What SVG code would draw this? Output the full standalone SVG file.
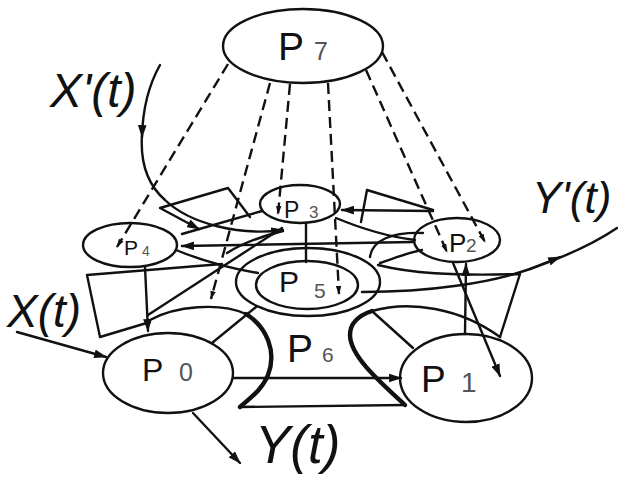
<svg xmlns="http://www.w3.org/2000/svg" width="618" height="477" viewBox="0 0 618 477">
<style>
.nd{fill:none;stroke:#111;stroke-width:2.4}
.ln{fill:none;stroke:#111;stroke-width:2.4;stroke-linecap:round;stroke-linejoin:round}
.bold{fill:none;stroke:#111;stroke-width:4.4;stroke-linecap:round}
.dash{fill:none;stroke:#111;stroke-width:2.4;stroke-dasharray:11 6}
.p{font-family:"Liberation Sans",Arial,sans-serif;fill:#111}
.s{font-family:"Liberation Sans",Arial,sans-serif;fill:#555}
.lab{font-family:"Liberation Sans",Arial,sans-serif;font-style:italic;fill:#111}
</style>
<defs>
<marker id="ar" viewBox="0 0 12 8" refX="11" refY="4" markerWidth="13" markerHeight="9" markerUnits="userSpaceOnUse" orient="auto">
<path d="M0,0 L12,4 L0,8 z" fill="#111"/>
</marker>
<marker id="ad" viewBox="0 0 10 6" refX="9" refY="3" markerWidth="9" markerHeight="6" markerUnits="userSpaceOnUse" orient="auto">
<path d="M0,0 L10,3 L0,6 z" fill="#111"/>
</marker>
</defs>
<rect width="618" height="477" fill="#fff"/>

<g id="connectors">
<!-- dashed links from P7 -->
<path class="dash" d="M228,64 L117,247" marker-end="url(#ad)"/>
<path class="dash" d="M270,83 L211,299" marker-end="url(#ad)"/>
<path class="dash" d="M290,84 L278,214" marker-end="url(#ad)"/>
<path class="dash" d="M328,83 L339,294" marker-end="url(#ad)"/>
<path class="dash" d="M366,70 L447,252" marker-end="url(#ad)"/>
<path class="dash" d="M382,52 L485,242" marker-end="url(#ad)"/>

<!-- inputs / outputs -->
<path class="ln" d="M17,332 L106,357" marker-end="url(#ar)"/>
<path class="ln" d="M193,413 L240,463" marker-end="url(#ar)"/>
<path class="ln" d="M160,65 Q143,95 142,137" marker-end="url(#ar)"/>
<path class="ln" d="M142,135 C140,165 148,185 165,200 C190,224 240,236 283,230" marker-end="url(#ar)"/>
<path class="ln" d="M362,292 C430,292 490,283 530,269 C570,255 595,243 617,228"/>
<path class="ln" d="M530,269 L560,257" marker-end="url(#ar)"/>

<!-- main links -->
<path class="ln" d="M233,378 L401,378" marker-end="url(#ar)"/>
<path class="ln" d="M413,242 L182,246" marker-end="url(#ar)"/>
<path class="ln" d="M145,267 L148,331" marker-end="url(#ar)"/>
<path class="ln" d="M306,223 L306,262"/>
<path class="ln" d="M465,334 L466,264" marker-end="url(#ar)"/>
<path class="ln" d="M453,263 L500,376" marker-end="url(#ar)"/>

<!-- left flag near P3 -->
<path class="ln" d="M250,217 L228,188 L160,208 L199,229" marker-end="url(#ar)"/>
<path class="ln" d="M182,234 L262,211"/>
<!-- right flag near P3 -->
<path class="ln" d="M361,222 L367,190 L433,210"/>
<path class="ln" d="M433,211 L342,210" marker-end="url(#ar)"/>
<path class="ln" d="M336,218 C360,228 390,237 415,240"/>
<path class="ln" d="M370,257 C372,240 392,232 423,233"/>
<path class="ln" d="M380,263 C395,258 410,252 422,250"/>
<path class="ln" d="M378,265 C410,273 450,276 520,274 L500,337"/>

<!-- left quadrilateral near P0 -->
<path class="ln" d="M222,264 L87,275 L100,337 L150,322"/>
<path class="ln" d="M148,315 L282,228"/>
<path class="ln" d="M176,250 Q215,266 258,273"/>
<path class="ln" d="M227,253 C240,245 262,236 283,231"/>

<!-- diagonal spokes to P5 -->
<path class="ln" d="M212,343 L256,307"/>
<path class="ln" d="M413,348 L373,312"/>

<!-- arcs over P0 and P1 and P6 boundary -->
<path class="ln" d="M150,320 C175,306 220,302 246,314"/>
<path class="bold" d="M246,314 C267,327 277,352 268,375 C262,390 250,398 240,407"/>
<path class="ln" d="M240,407 L405,405"/>
<path class="bold" d="M405,405 C380,382 350,356 350,335 C350,322 360,315 372,311"/>
<path class="ln" d="M372,311 C410,300 460,308 500,337"/>
</g>

<g id="P7">
<ellipse class="nd" cx="303" cy="46" rx="80" ry="37" fill="#fff"/>
<text class="p" x="278" y="60" font-size="39">P</text>
<text class="s" x="314" y="60" font-size="25">7</text>
</g>
<g id="P3">
<ellipse class="nd" cx="300" cy="204" rx="40" ry="19"/>
<text class="p" x="284" y="218" font-size="23">P</text>
<text class="s" x="309" y="218" font-size="17">3</text>
</g>
<g id="P4">
<ellipse class="nd" cx="130" cy="245" rx="47" ry="22"/>
<text class="p" x="124" y="255" font-size="21">P</text>
<text class="s" x="142" y="256" font-size="14">4</text>
</g>
<g id="P2">
<ellipse class="nd" cx="457" cy="240" rx="43" ry="22"/>
<text class="p" x="449" y="252" font-size="26">P</text>
<text class="s" x="466" y="252" font-size="19">2</text>
</g>
<g id="P5">
<ellipse class="nd" cx="308" cy="282" rx="72" ry="34"/>
<ellipse class="nd" cx="307" cy="285" rx="51" ry="24"/>
<text class="p" x="279" y="292" font-size="30">P</text>
<text class="s" x="314" y="298" font-size="21">5</text>
</g>
<g id="P6">
<text class="p" x="287" y="362" font-size="39">P</text>
<text class="s" x="322" y="362" font-size="21">6</text>
</g>
<g id="P0">
<ellipse class="nd" cx="168" cy="373" rx="65" ry="40"/>
<text class="p" x="142" y="381" font-size="32">P</text>
<text class="s" x="179" y="381" font-size="25">0</text>
</g>
<g id="P1">
<ellipse class="nd" cx="466" cy="378" rx="66" ry="44"/>
<text class="p" x="421" y="392" font-size="37">P</text>
<text class="s" x="461" y="392" font-size="28">1</text>
</g>

<g id="labels">
<text class="lab" x="50" y="107" font-size="48">X'(t)</text>
<text class="lab" x="7" y="327" font-size="46">X(t)</text>
<text class="lab" x="255" y="463" font-size="53">Y(t)</text>
<text class="lab" x="532" y="213" font-size="44">Y'(t)</text>
</g>
</svg>
